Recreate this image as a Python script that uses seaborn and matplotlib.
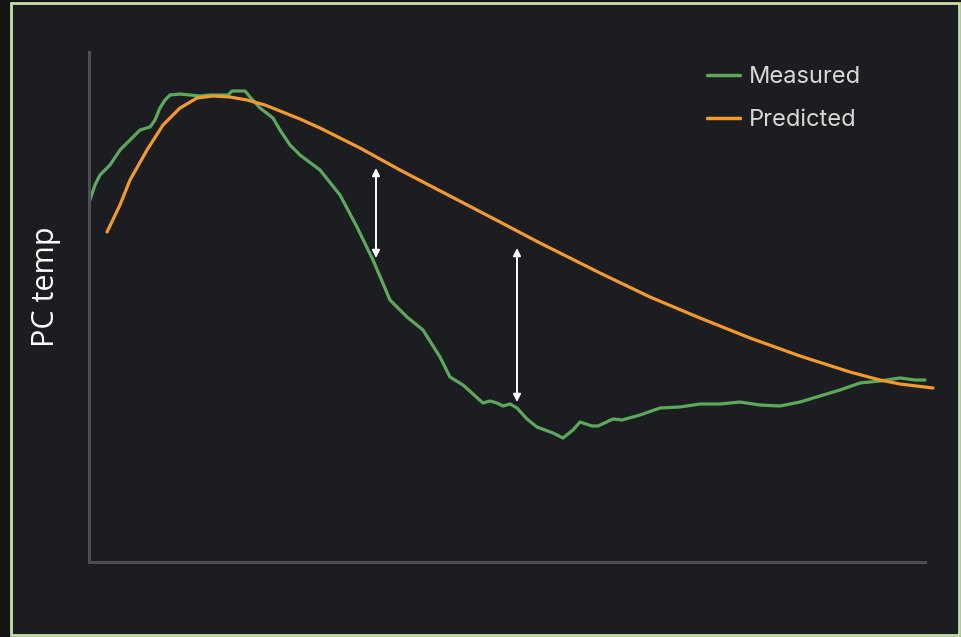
import matplotlib
matplotlib.use("Agg")
import matplotlib.pyplot as plt
from matplotlib.patches import Rectangle
import seaborn as sns
import pandas as pd

# measured trace (time, temp)
measured_t = [0, 5, 10, 20, 30, 40, 50, 60, 65, 70, 75, 80, 90, 100, 110, 120, 138, 142,
              155, 160, 170, 183, 190, 200, 205, 210, 230, 250, 267, 283, 300, 317, 333,
              350, 360, 373, 393, 400, 407, 413, 420, 427, 437, 447, 463, 473, 483, 490,
              502, 508, 523, 532, 550, 570, 590, 610, 630, 650, 670, 690, 710, 730, 750,
              770, 790, 810, 825, 835]
measured_temp = [40.0, 41.5, 42.5, 43.5, 45.0, 46.0, 47.0, 47.3, 48.0, 49.2, 50.0, 50.5,
                 50.6, 50.5, 50.4, 50.5, 50.5, 50.9, 50.9, 50.3, 49.2, 48.2, 47.0, 45.5,
                 45.0, 44.5, 43.0, 40.5, 37.3, 34.0, 30.0, 28.3, 27.0, 24.3, 22.3, 21.5,
                 19.7, 19.9, 19.7, 19.4, 19.6, 19.2, 18.1, 17.3, 16.7, 16.2, 17.0, 17.8,
                 17.4, 17.4, 18.1, 18.0, 18.5, 19.2, 19.3, 19.6, 19.6, 19.8, 19.5, 19.4,
                 19.8, 20.4, 21.0, 21.7, 21.9, 22.2, 22.0, 22.0]

# predicted trace
predicted_t = [17, 30, 40, 57, 73, 90, 107, 123, 140, 157, 175, 190, 210, 230, 250, 270,
               290, 310, 335, 360, 385, 410, 450, 480, 510, 560, 610, 660, 710, 760, 790,
               810, 843]
predicted_temp = [36.8, 39.5, 42.0, 45.0, 47.5, 49.2, 50.2, 50.4, 50.3, 50.0, 49.5, 48.9,
                  48.1, 47.2, 46.2, 45.2, 44.1, 43.0, 41.7, 40.4, 39.1, 37.8, 35.7, 34.2,
                  32.7, 30.3, 28.2, 26.2, 24.4, 22.8, 22.0, 21.6, 21.2]

# gaps marked with arrows: (time, upper temp, lower temp)
gap_t = [286, 427]
gap_top = [43.2, 35.2]
gap_bottom = [34.2, 19.8]

bg = "#1c1d21"
sns.set_theme(style="dark", rc={"axes.facecolor": bg, "figure.facecolor": "#141414"})

fig = plt.figure(figsize=(9.61, 6.37), dpi=100)
frame = Rectangle((11 / 961, 2 / 637), 948 / 961, 632 / 637, transform=fig.transFigure,
                  facecolor=bg, edgecolor="#c6dfa8", linewidth=2, zorder=-10)
fig.patches.append(frame)
ax = fig.add_axes([89 / 961, 75 / 637, 846 / 961, 510 / 637])
ax.set_facecolor("none")

df_m = pd.DataFrame({"t": measured_t, "temp": measured_temp})
df_p = pd.DataFrame({"t": predicted_t, "temp": predicted_temp})
sns.lineplot(data=df_m, x="t", y="temp", ax=ax, color="#5ca95b", lw=2.3, label="Measured")
sns.lineplot(data=df_p, x="t", y="temp", ax=ax, color="#f39a2c", lw=2.3, label="Predicted")

for t, top, bot in zip(gap_t, gap_top, gap_bottom):
    ax.annotate("", xy=(t, top), xytext=(t, bot),
                arrowprops=dict(arrowstyle="<|-|>", color="white", lw=1.4,
                                mutation_scale=11, shrinkA=0, shrinkB=0))

ax.set_xlim(-1, 845)
ax.set_ylim(3.8, 54.8)
ax.set_xticks([])
ax.set_yticks([])
ax.set_xlabel("")
ax.set_ylabel("PC temp", color="white", fontsize=22, family="Open Sans")
ax.yaxis.set_label_coords(-0.033, 0.54)
for side in ["top", "right"]:
    ax.spines[side].set_visible(False)
for side in ["left", "bottom"]:
    ax.spines[side].set_visible(True)
    ax.spines[side].set_color("#4c4e53")
    ax.spines[side].set_linewidth(2.2)
ax.spines["bottom"].set_bounds(-1, 835)

leg = ax.legend(loc="upper left", bbox_to_anchor=(0.7305, 0.973), frameon=False,
                borderaxespad=0, borderpad=0,
                prop={"family": "Inter", "size": 17}, handlelength=1.4, handletextpad=0.38,
                labelspacing=0.9)
for txt in leg.get_texts():
    txt.set_color("#d9d9d9")
for line in leg.get_lines():
    line.set_linewidth(2.5)

fig.savefig("out.png", dpi=100, facecolor=fig.get_facecolor())
